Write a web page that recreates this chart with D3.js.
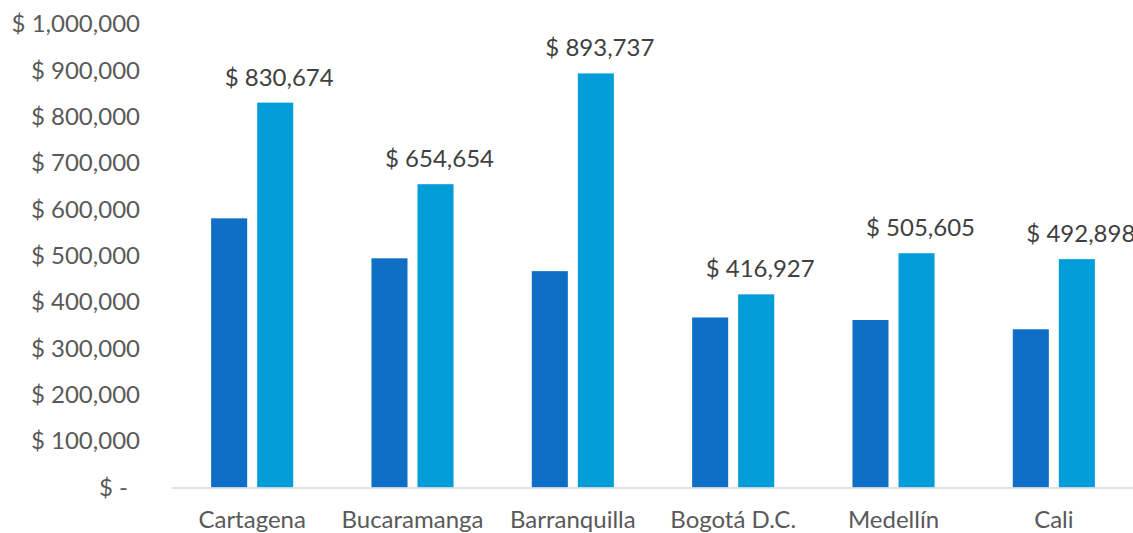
<!DOCTYPE html>
<html>
<head>
<meta charset="utf-8">
<script src="https://cdn.jsdelivr.net/npm/d3@7"></script>
<style>
  html, body { margin: 0; padding: 0; background: #fff; overflow: hidden; }
  svg { display: block; }
  text { font-family: Lato, "Open Sans", sans-serif; }
</style>
</head>
<body>
<svg id="chart" width="1133" height="533"></svg>
<script>
const categories = ["Cartagena", "Bucaramanga", "Barranquilla", "Bogotá D.C.", "Medellín", "Cali"];
const seriesNames = ["Serie 1", "Serie 2"];
const series1 = [581000, 494700, 467000, 367000, 361500, 341500];
const series2 = [830674, 654654, 893737, 416927, 505605, 492898];
const yTicks = [0, 100000, 200000, 300000, 400000, 500000, 600000, 700000, 800000, 900000, 1000000];
const colors = ["#0F6FC6", "#009DD9"];

const W = 1133, H = 533;
const svg = d3.select("#chart");

const x0 = d3.scaleBand().domain(categories).range([172, 1134]).paddingInner(0.488).paddingOuter(0.244);
const x1 = d3.scaleBand().domain(seriesNames).range([0, x0.bandwidth()]).paddingInner(0.217);
const y = d3.scaleLinear().domain([0, 1000000]).range([487.5, 24.2]);

const fmt = d3.format(",");
const yLabel = d => d === 0 ? "$ -" : "$ " + fmt(d);

// Y axis labels
const yAxis = d3.axisLeft(y).tickValues(yTicks).tickFormat(yLabel).tickSize(0).tickPadding(0);
const gy = svg.append("g").attr("transform", "translate(140,0)").call(yAxis);
gy.select(".domain").remove();
gy.selectAll("text")
  .attr("fill", "#595959")
  .style("font-size", "24px")
  .style("font-family", "Lato, 'Open Sans', sans-serif")
  .attr("dx", d => d === 0 ? -12 : 0);

// bars
const data = categories.map((c, i) => ({ cat: c, vals: [series1[i], series2[i]] }));
const groups = svg.append("g").selectAll("g").data(data).join("g")
  .attr("transform", d => `translate(${x0(d.cat)},0)`);
groups.selectAll("rect").data(d => d.vals.map((v, j) => ({ v, s: seriesNames[j], j })))
  .join("rect")
  .attr("x", d => x1(d.s))
  .attr("width", x1.bandwidth())
  .attr("y", d => y(d.v))
  .attr("height", d => y(0) - y(d.v))
  .attr("fill", d => colors[d.j]);

// data labels on series 2
groups.append("text")
  .attr("x", d => x1(seriesNames[1]) + x1.bandwidth() / 2 + 4)
  .attr("y", d => y(d.vals[1]) - 17)
  .attr("text-anchor", "middle")
  .attr("fill", "#404040")
  .style("font-size", "24px")
  .text(d => "$ " + fmt(d.vals[1]));

// x axis
const xAxis = d3.axisBottom(x0).tickSize(0).tickPadding(0);
const gx = svg.append("g").attr("transform", `translate(0,${y(0)})`).call(xAxis);
gx.select(".domain").attr("stroke", "#D9D9D9").attr("stroke-width", 1.5)
  .attr("d", `M172,0.5H${W}`);
gx.selectAll("text")
  .attr("fill", "#595959")
  .style("font-size", "24px")
  .style("font-family", "Lato, 'Open Sans', sans-serif")
  .attr("y", 40)
  .attr("dy", 0);
</script>
</body>
</html>
